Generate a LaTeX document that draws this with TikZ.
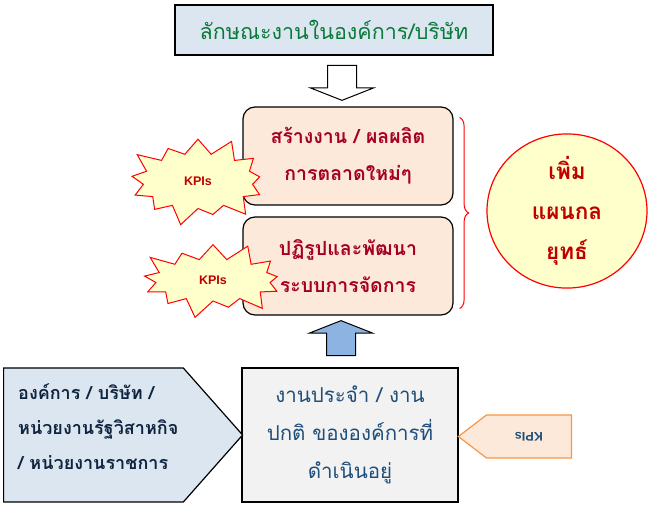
\documentclass[tikz,border=0pt]{standalone}
\usepackage{fontspec}
\newfontfamily\thaifont[Script=Thai]{Loma}
\newfontfamily\kpifont{Liberation Sans}
\usetikzlibrary{shapes.symbols,shapes.arrows,shapes.geometric,decorations.pathreplacing}

\definecolor{boxblue}{HTML}{DCE6F1}
\definecolor{peach}{HTML}{FDE9D9}
\definecolor{paleyellow}{HTML}{FFFFCC}
\definecolor{darkred}{HTML}{A50021}
\definecolor{kpired}{HTML}{C00000}
\definecolor{textgreen}{HTML}{0B7A3B}
\definecolor{textblue}{HTML}{1F4E79}
\definecolor{navy}{HTML}{0F243E}
\definecolor{arrowblue}{HTML}{8DB3E2}
\definecolor{kpiorange}{HTML}{F79646}

\begin{document}
\begin{tikzpicture}[x=1pt, y=-1pt, font=\thaifont\fontsize{21.5}{38}\selectfont,
    probox/.style={draw, line width=1.2pt, rounded corners=12pt, fill=peach,
        minimum width=210pt, minimum height=98pt, align=center, text=darkred, font=\thaifont\bfseries\fontsize{19.5}{37}\selectfont},
    burst/.style={starburst, draw=red, line width=1pt, fill=paleyellow,
        starburst points=13, starburst point height=20pt, text=kpired, font=\kpifont\bfseries\fontsize{12.5}{14}\selectfont},
    blockarrow/.style={single arrow, draw, line width=1pt, inner sep=14pt,
        single arrow head extend=17pt, single arrow tip angle=137, minimum height=35pt}]
\useasboundingbox (0,0) rectangle (649,505);

% top: nature of work
\node [draw, line width=1.2pt, fill=boxblue, minimum width=318pt, minimum height=50pt, text=textgreen] (trait) at (334,30) {ลักษณะงานในองค์การ/บริษัท};
\node [blockarrow, fill=white, shape border rotate=270] (down) at (342,80) {};

% the two tasks
\node [probox] (newwork) at (348,156) {สร้างงาน / ผลผลิต\\การตลาดใหม่ๆ};
\node [probox] (reform) at (348,266) {ปฏิรูปและพัฒนา\\ระบบการจัดการ};
\node [burst, minimum width=150pt, minimum height=95pt] (kpione) at (198,181) {KPIs};
\node [burst, minimum width=155pt, minimum height=82pt] (kpitwo) at (213,280) {KPIs};

% brace and plan
\draw [red, line width=1pt, decorate, decoration={brace, amplitude=9pt}] ([xshift=6pt,yshift=-11pt]newwork.north east) -- ([xshift=6pt,yshift=7pt]reform.south east) coordinate[midway] (bracemid);
\node [ellipse, draw=red, line width=1.2pt, fill=paleyellow, minimum width=160pt, minimum height=152pt, inner sep=0pt, align=center, text=kpired, font=\thaifont\bfseries\fontsize{22.5}{40}\selectfont] (plan) at (567,211) {เพิ่ม\\แผนกล\\ยุทธ์};

% bottom row
\node [blockarrow, fill=arrowblue, shape border rotate=90] (up) at (341,341) {};
\node [draw, line width=1.2pt, fill=gray!10, minimum width=216pt, minimum height=134pt, align=center, text=textblue, font=\thaifont\fontsize{20.5}{38}\selectfont] (routine) at (350,435) {งานประจำ / งาน\\ปกติ ขององค์การที่\\ดำเนินอยู่};
\node [signal, signal to=east, signal pointer angle=97, draw, line width=1.2pt, fill=boxblue, minimum width=239pt, minimum height=134pt, anchor=west] (org) at (3,435) {};
\node [align=left, text=navy, font=\thaifont\bfseries\fontsize{18}{35}\selectfont, anchor=west, inner sep=0pt] (orgtext) at (18,427) {องค์การ / บริษัท /\\หน่วยงานรัฐวิสาหกิจ\\/ หน่วยงานราชการ};
\node [signal, signal to=west, signal pointer angle=75, draw=kpiorange, line width=1.2pt, fill=peach, minimum width=113pt, minimum height=43pt, anchor=east, text=textblue, font=\kpifont\bfseries\fontsize{12.5}{14}\selectfont] (kpithree) at (572,436.5) {\rotatebox{180}{KPIs}};
\end{tikzpicture}
\end{document}
